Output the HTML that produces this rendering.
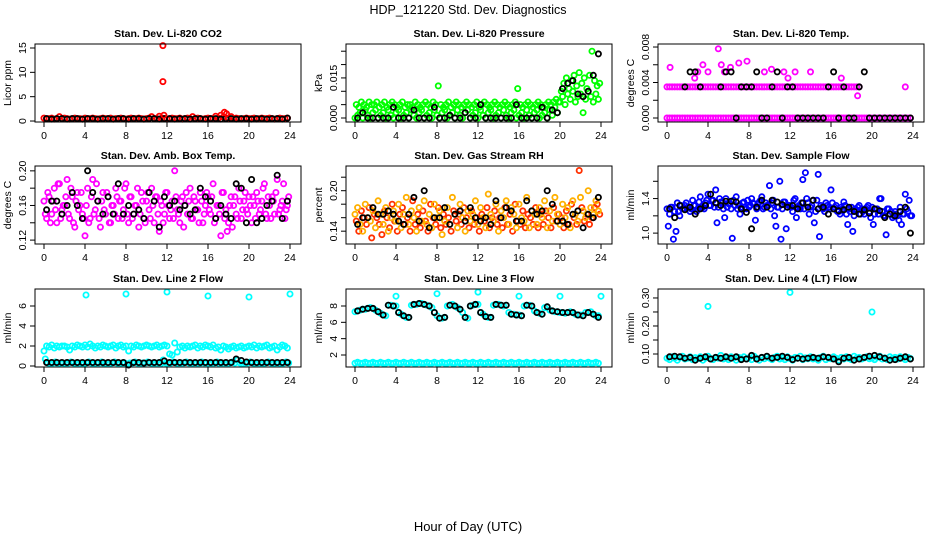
<!DOCTYPE html>
<html><head><meta charset="utf-8">
<style>
html,body{margin:0;padding:0;background:#fff;}
svg{display:block;font-family:"Liberation Sans",sans-serif;}
</style></head>
<body>
<svg id="chart" width="936" height="540" viewBox="0 0 936 540">
<text x="468" y="14" text-anchor="middle" font-size="12.5">HDP_121220  Std. Dev. Diagnostics</text>
<text x="468" y="531" text-anchor="middle" font-size="13">Hour of Day (UTC)</text>
</svg>
<script>
// ---------- data ----------
const xTicks = [0,4,8,12,16,20,24];

const co2Red = [0.6,0.5,0.5,0.6,0.4,0.5,0.9,0.5,
0.6,0.5,0.4,0.5,0.6,0.5,0.5,0.4,
0.6,0.5,0.5,0.6,0.5,0.4,0.5,0.6,
0.5,0.5,0.6,0.4,0.5,0.5,0.6,0.5,
0.4,0.5,0.6,0.5,0.5,0.6,0.5,0.4,
0.5,0.6,0.9,0.5,0.5,1.0,0.6,0.5,
0.4,0.5,0.6,0.5,0.5,0.6,0.4,0.5,
0.6,0.5,0.9,0.5,0.6,0.5,0.4,0.5,
0.6,0.5,0.5,1.0,0.6,1.2,0.8,0.5,
0.6,0.9,0.5,0.6,0.5,0.4,0.5,0.6,
0.5,0.5,0.6,0.4,0.5,0.6,0.5,0.5,
0.6,0.5,0.4,0.5,0.6,0.5,0.5,0.6];
const co2Black = [0.5,0.4,0.5,0.5,0.4,0.5,0.5,0.4,
0.5,0.5,0.4,0.5,0.5,0.4,0.5,0.5,
0.4,0.5,0.5,0.4,0.5,0.5,0.4,0.5,
0.5,0.4,0.5,0.5,0.4,0.5,0.5,0.4,
0.5,0.5,0.4,0.5,0.5,0.4,0.5,0.5,
0.4,0.5,0.5,0.4,0.5,0.5,0.4,0.6];
const co2OutHours = [11.6,11.6,11.7,17.6,17.8];
const co2OutValues = [15.5,8.1,1.2,1.8,1.5];

const presGreenHi = [0.005,0.004,0.006,0.005,0.004,0.006,0.005,0.005,
0.006,0.004,0.005,0.006,0.004,0.005,0.006,0.005,
0.004,0.005,0.006,0.004,0.005,0.005,0.004,0.006,
0.005,0.004,0.005,0.006,0.005,0.004,0.006,0.005,
0.012,0.005,0.004,0.005,0.006,0.004,0.005,0.006,
0.005,0.004,0.005,0.006,0.005,0.004,0.005,0.006,
0.004,0.005,0.006,0.005,0.004,0.005,0.006,0.005,
0.004,0.005,0.006,0.005,0.004,0.005,0.006,0.011,
0.005,0.004,0.005,0.006,0.005,0.004,0.005,0.006,
0.005,0.004,0.005,0.006,0.005,0.006,0.007,0.006,
0.010,0.013,0.015,0.011,0.014,0.016,0.012,0.017,
0.013,0.015,0.011,0.016,0.025,0.014,0.012,0.013];
const presGreenLo = [0.000,0.001,0.002,0.000,0.003,0.001,0.000,0.002,
0.003,0.000,0.001,0.002,0.000,0.003,0.001,0.000,
0.002,0.003,0.000,0.001,0.002,0.000,0.003,0.001,
0.000,0.002,0.003,0.000,0.001,0.002,0.000,0.003,
0.001,0.000,0.002,0.003,0.000,0.001,0.002,0.000,
0.003,0.001,0.000,0.002,0.003,0.000,0.001,0.002,
0.000,0.003,0.001,0.000,0.002,0.003,0.000,0.001,
0.002,0.000,0.003,0.001,0.000,0.002,0.003,0.000,
0.001,0.002,0.000,0.003,0.001,0.000,0.002,0.003,
0.000,0.001,0.002,0.000,0.003,0.001,0.004,0.002,
0.006,0.008,0.005,0.009,0.007,0.010,0.006,0.008,
0.009,0.002,0.007,0.010,0.008,0.006,0.009,0.007];
const presBlack = [0.000,0.002,0.000,0.000,0.000,0.000,0.000,0.004,
0.000,0.000,0.000,0.003,0.000,0.000,0.000,0.004,
0.000,0.000,0.001,0.000,0.000,0.002,0.000,0.000,
0.005,0.000,0.000,0.000,0.000,0.000,0.000,0.005,
0.000,0.000,0.000,0.000,0.004,0.000,0.003,0.002,
0.011,0.013,0.014,0.009,0.008,0.010,0.016,0.024];

const tempMagZero = [0,0,0,0,0,0,0,0, 0,0,0,0,0,0,0,0, 0,0,0,0,0,0,0,0,
0,0,0,0,0,0,0,0, 0,0,0,0,0,0,0,0, 0,0,0,0,0,0,0,0,
0,0,0,0,0,0,0,0, 0,0,0,0,0,0,0,0, 0,0,0,0,0,0,0,0,
0,0,0,0,0,0,0,0, 0,0,0,0,0,0,0,0, 0,0,0,0,0,0,0,0];
const tempMagMid = [0.0035,0.0035,0.0035,0.0035,0.0035,0.0035,0.0035,0.0035,
0.0035,0.0035,0.0035,0.0035,0.0035,0.0035,0.0035,0.0035,
0.0035,0.0035,0.0035,0.0035,0.0035,0.0035,0.0035,0.0035,
0.0035,0.0035,0.0035,0.0035,0.0035,0.0035,0.0035,0.0035,
0.0035,0.0035,0.0035,0.0035,0.0035,0.0035,0.0035,0.0035,
0.0035,0.0035,0.0035,0.0035,0.0035,0.0035,0.0035,0.0035,
0.0035,0.0035,0.0035,0.0035,0.0035,0.0035,0.0035,0.0035,
0.0035,0.0035,0.0035,0.0035,0.0035,0.0035,0.0035,0.0035,
0.0035,0.0035,0.0035,0.0035,0.0035,0.0035,0.0035,0.0035,
0.0035,0.0035,0.0035,0.0035,null,null,null,null,
null,null,null,null,null,null,null,null,
null,null,null,null,null,0.0035,null,null];
const tempHighHours = [0.3,2.7,3.0,3.5,4.0,5.0,5.3,5.6,6.2,7.0,7.8,9.5,10.2,11.4,11.8,12.5,14.0,17.0,18.6];
const tempHighValues = [0.0057,0.0045,0.0052,0.006,0.0052,0.0078,0.006,0.0052,0.0057,0.0062,0.0064,0.0052,0.0055,0.0052,0.0045,0.0052,0.0052,0.0045,0.0025];
const tempBlack = [null,null,null,0.0035,0.0052,0.0052,0.0035,null,
null,null,0.0035,0.0052,0.0052,0,0.0035,0.0035,
0.0035,0.0052,0,0,0.0035,0.0052,0,0.0035,
0.0035,0,0,0,0,0,0,0.0035,
0.0052,0,0.0035,0,0,0.0035,0.0052,0,
0,0,0,0,0,0,0,0];

const ambMag = [0.165,0.145,0.170,0.150,0.180,0.140,0.185,0.155,
0.160,0.190,0.145,0.170,0.135,0.175,0.160,0.150,
0.125,0.180,0.145,0.190,0.155,0.165,0.135,0.175,
0.150,0.170,0.140,0.160,0.180,0.145,0.165,0.155,
0.185,0.140,0.170,0.150,0.160,0.135,0.175,0.145,
0.165,0.155,0.180,0.140,0.170,0.130,0.160,0.150,
0.175,0.145,0.165,0.200,0.155,0.140,0.170,0.160,
0.150,0.180,0.145,0.165,0.155,0.175,0.140,0.160,
0.170,0.150,0.185,0.145,0.160,0.125,0.175,0.155,
0.140,0.170,0.160,0.150,0.180,0.145,0.165,0.155,
0.170,0.140,0.160,0.175,0.150,0.165,0.185,0.145,
0.160,0.170,0.150,0.190,0.155,0.165,0.145,0.160];
const ambMag2 = [0.150,0.175,0.140,0.165,0.155,0.185,0.145,0.160,
0.170,0.150,0.180,0.140,0.165,0.155,0.175,0.145,
0.160,0.140,0.170,0.150,0.185,0.145,0.165,0.155,
0.175,0.140,0.160,0.150,0.170,0.165,0.145,0.180,
0.150,0.170,0.145,0.160,0.180,0.150,0.165,0.140,
0.175,0.145,0.160,0.170,0.150,0.165,0.140,0.175,
0.160,0.155,0.145,0.170,0.150,0.165,0.135,0.175,
0.165,0.145,0.170,0.155,0.140,0.165,0.150,0.175,
0.155,0.170,0.140,0.160,0.150,0.175,0.145,0.130,
0.160,0.135,0.170,0.145,0.165,0.155,0.175,0.150,
0.160,0.170,0.145,0.165,0.155,0.180,0.150,0.170,
0.145,0.165,0.175,0.150,0.160,0.185,0.155,0.170];
const ambBlack = [0.155,0.165,0.165,0.150,0.160,0.175,0.160,0.145,
0.200,0.175,0.165,0.150,0.170,0.150,0.185,0.150,
0.160,0.150,0.155,0.145,0.175,0.165,0.135,0.170,
0.160,0.165,0.155,0.160,0.150,0.155,0.180,0.170,
0.165,0.145,0.160,0.150,0.145,0.185,0.180,0.140,
0.190,0.140,0.145,0.160,0.165,0.195,0.145,0.165];

const rhOrange = [0.165,0.175,0.150,0.140,0.180,0.160,0.155,0.170,
0.145,0.185,0.165,0.150,0.175,0.140,0.160,0.170,
0.155,0.180,0.145,0.165,0.190,0.150,0.170,0.160,
0.140,0.175,0.155,0.185,0.150,0.165,0.145,0.180,
0.160,0.170,0.135,0.155,0.175,0.150,0.190,0.165,
0.145,0.180,0.160,0.140,0.170,0.155,0.165,0.185,
0.150,0.175,0.160,0.145,0.195,0.165,0.155,0.180,
0.140,0.170,0.160,0.185,0.150,0.175,0.165,0.145,
0.180,0.160,0.155,0.190,0.145,0.170,0.165,0.150,
0.175,0.160,0.185,0.145,0.170,0.155,0.190,0.165,
0.150,0.180,0.160,0.175,0.145,0.185,0.165,0.155,
0.190,0.170,0.160,0.200,0.175,0.165,0.185,0.170];
const rhRed = [0.155,0.140,0.170,0.160,0.150,0.175,0.130,0.165,
0.160,0.150,0.135,0.170,0.160,0.145,0.180,0.155,
0.140,0.165,0.175,0.150,0.160,0.140,0.185,0.150,
0.165,0.145,0.170,0.155,0.140,0.180,0.160,0.150,
0.175,0.145,0.165,0.150,0.160,0.140,0.170,0.155,
0.165,0.150,0.175,0.160,0.145,0.170,0.150,0.160,
0.140,0.165,0.155,0.175,0.145,0.160,0.170,0.150,
0.160,0.145,0.175,0.150,0.165,0.140,0.180,0.155,
0.150,0.170,0.145,0.165,0.160,0.150,0.175,0.145,
0.165,0.150,0.170,0.160,0.145,0.175,0.155,0.165,
0.160,0.145,0.170,0.150,0.180,0.160,0.150,0.230,
0.175,0.155,0.165,0.150,0.160,0.175,0.180,0.165];
const rhBlack = [0.150,0.160,0.160,0.175,0.165,0.165,0.170,0.165,
0.155,0.150,0.165,0.190,0.155,0.200,0.145,0.160,
0.160,0.175,0.150,0.165,0.170,0.155,0.175,0.160,
0.155,0.160,0.150,0.185,0.160,0.175,0.170,0.155,
0.155,0.185,0.170,0.165,0.170,0.200,0.180,0.155,
0.155,0.150,0.165,0.170,0.145,0.165,0.160,0.190];

const flowBlue = [1.28,1.22,1.30,1.25,1.35,1.20,1.28,1.32,
1.30,1.25,1.38,1.32,1.28,1.42,1.30,1.35,
1.45,1.32,1.38,1.50,1.30,1.36,1.28,1.40,
1.34,1.28,1.38,1.42,1.32,1.30,1.36,1.28,
1.30,1.40,1.34,1.28,1.36,1.42,1.30,1.32,
1.55,1.35,1.20,1.30,1.60,1.28,1.36,1.30,
1.32,1.25,1.40,1.30,1.28,1.62,1.70,1.35,
1.30,1.38,1.25,1.68,1.32,1.28,1.35,1.30,
1.50,1.28,1.32,1.25,1.30,1.36,1.22,1.28,
1.30,1.20,1.26,1.32,1.28,1.22,1.30,1.25,
1.30,1.22,1.28,1.40,1.25,1.20,1.28,1.22,
1.18,1.25,1.20,1.30,1.22,1.45,1.25,1.20];
const flowBlue2 = [1.08,1.30,0.93,1.02,1.25,1.32,1.28,1.35,
1.30,1.28,1.32,1.25,1.36,1.30,1.28,1.38,
1.32,1.38,1.30,1.12,1.40,1.35,1.18,1.30,
1.34,0.94,1.32,1.28,1.22,1.35,1.30,1.38,
1.32,1.35,1.15,1.30,1.38,1.28,1.35,1.32,
1.28,1.38,1.08,1.30,0.93,1.36,1.05,1.32,
1.30,1.38,1.18,1.32,1.35,1.28,1.40,1.22,
1.32,1.12,1.38,0.96,1.30,1.25,1.32,1.28,
1.35,1.30,1.25,1.22,1.28,1.32,1.10,1.25,
1.02,1.28,1.30,1.22,1.25,1.28,1.32,1.18,
1.10,1.28,1.22,1.40,1.20,0.98,1.28,1.25,
1.20,1.22,1.15,1.10,1.22,1.28,1.38,1.20];
const flowBlack = [1.28,1.18,1.32,1.27,1.30,1.22,1.28,1.32,
1.45,1.35,1.32,1.37,1.37,1.36,1.28,1.24,
1.05,1.30,1.38,1.30,1.38,1.36,1.33,1.30,
1.32,1.28,1.35,1.30,1.38,1.28,1.30,1.22,
1.28,1.26,1.27,1.30,1.25,1.22,1.27,1.23,
1.28,1.26,1.18,1.22,1.20,1.25,1.30,1.00];

const l2CyanHi = [1.5,2.0,1.9,2.1,1.8,2.0,1.9,2.0,
2.0,1.9,1.6,2.0,1.9,2.1,2.0,1.9,
2.1,1.9,2.2,2.0,1.8,2.0,1.9,2.1,
2.0,1.9,2.0,2.1,1.8,2.0,2.1,1.9,
2.0,1.5,2.0,1.9,2.1,2.0,1.9,2.0,
2.1,2.0,1.9,2.0,2.1,1.9,2.0,2.1,
2.0,1.2,1.1,2.3,1.4,1.9,2.0,1.8,
2.0,1.9,2.0,2.1,1.8,2.0,1.9,2.1,
2.0,1.9,2.1,1.8,1.9,1.6,2.0,1.9,
1.7,1.9,2.0,1.8,1.9,2.0,1.8,1.9,
2.0,1.9,2.1,1.8,2.0,1.9,2.0,2.1,
1.8,1.9,2.0,1.6,1.9,2.1,2.0,1.8];
const l2CyanLo = [0.7,0.3,0.2,0.3,0.4,0.2,0.3,0.3,
0.2,0.3,0.4,0.3,0.2,0.3,0.3,0.2,
0.3,0.4,0.3,0.2,0.3,0.3,0.4,0.2,
0.3,0.2,0.3,0.4,0.3,0.2,0.3,0.3,
0.2,0.3,0.3,0.4,0.3,0.2,0.3,0.3,
0.4,0.3,0.2,0.3,0.3,0.2,0.6,0.3,
0.2,0.3,0.4,0.3,0.2,0.3,0.3,0.4,
0.3,0.2,0.3,0.3,0.2,0.4,0.3,0.3,
0.2,0.3,0.3,0.4,0.2,0.3,0.3,0.2,
0.3,0.4,0.3,0.6,0.3,0.2,0.3,0.3,
0.4,0.3,0.2,0.3,0.3,0.2,0.3,0.4,
0.3,0.2,0.3,0.3,0.2,0.3,0.4,0.3];
const l2OutHours = [4.1,8.0,12.0,16.0,20.0,24.0];
const l2OutValues = [7.1,7.2,7.4,7.0,6.9,7.2];
const l2Black = [0.35,0.35,0.35,0.35,0.35,0.35,0.35,0.35,
0.35,0.35,0.35,0.35,0.35,0.35,0.35,0.35,
0.10,0.35,0.35,0.30,0.35,0.35,0.35,0.50,
0.35,0.35,0.35,0.35,0.35,0.35,0.35,0.35,
0.35,0.35,0.35,0.35,0.35,0.70,0.55,0.40,
0.35,0.35,0.35,0.35,0.35,0.35,0.35,0.35];

const l3CyanLo = [1.0,1.1,1.0,1.0,1.1,1.0,1.0,1.1,
1.0,1.0,1.1,1.0,1.0,1.1,1.0,1.0,
1.1,1.0,1.0,1.1,1.0,1.0,1.1,1.0,
1.0,1.1,1.0,1.0,1.1,1.0,1.0,1.1,
1.0,1.0,1.1,1.0,1.0,1.1,1.0,1.0,
1.1,1.0,1.0,1.1,1.0,1.0,1.1,1.0,
1.0,1.1,1.0,1.0,1.1,1.0,1.0,1.1,
1.0,1.0,1.1,1.0,1.0,1.1,1.0,1.0,
1.1,1.0,1.0,1.1,1.0,1.0,1.1,1.0,
1.0,1.1,1.0,1.0,1.1,1.0,1.0,1.1,
1.0,1.0,1.1,1.0,1.0,1.1,1.0,1.0,
1.1,1.0,1.0,1.1,1.0,1.0,1.1,1.0];
const l3CyanWave = [7.3,7.4,7.5,7.6,7.6,7.7,7.8,7.7,
7.5,7.3,7.1,6.9,6.8,8.1,8.1,8.0,
8.0,7.2,7.0,6.8,6.6,6.6,8.1,8.2,
8.2,8.3,8.3,8.2,8.1,8.0,7.8,7.2,
6.8,6.5,6.5,6.6,8.0,8.1,8.2,8.0,
7.8,7.6,7.2,6.6,6.5,8.0,8.1,8.2,
8.2,7.2,7.0,6.7,6.6,6.6,8.1,8.2,
8.2,8.1,8.0,8.1,7.2,7.0,7.0,6.9,
6.9,6.8,8.0,8.1,8.1,8.0,7.4,7.2,
7.1,7.0,7.8,7.9,7.5,7.4,7.3,7.3,
7.2,7.2,7.1,7.2,7.3,7.2,7.0,6.9,
6.9,6.8,7.2,7.2,7.3,7.0,6.8,6.8];
const l3OutHours = [4.0,8.0,12.0,16.0,20.0,24.0];
const l3OutValues = [9.2,9.5,9.7,9.2,9.2,9.2];
const l3Black = [7.4,7.6,7.7,7.7,7.3,6.9,8.1,8.0,
7.2,6.8,6.6,8.2,8.3,8.2,8.0,7.2,
6.5,6.6,8.1,8.0,7.6,6.6,8.0,8.2,
7.2,6.7,6.6,8.2,8.1,8.1,7.0,6.9,
6.8,8.1,8.0,7.2,7.0,7.9,7.4,7.3,
7.2,7.2,7.2,6.9,6.8,7.2,7.0,6.6];

const l4Cyan = [0.085,0.080,0.090,0.085,0.078,0.088,0.092,0.082,
0.085,0.090,0.080,0.087,0.083,0.090,0.078,0.085,
0.092,0.084,0.080,0.088,0.085,0.095,0.082,0.086,
0.080,0.090,0.085,0.078,0.088,0.084,0.090,0.082,
0.086,0.080,0.092,0.085,0.078,0.088,0.083,0.090,
0.085,0.080,0.088,0.092,0.082,0.086,0.080,0.090,
0.084,0.078,0.088,0.085,0.092,0.080,0.086,0.083,
0.090,0.082,0.085,0.078,0.088,0.092,0.080,0.086,
0.083,0.090,0.085,0.078,0.088,0.082,0.090,0.084,
0.080,0.092,0.085,0.088,0.082,0.086,0.090,0.083,
0.085,0.080,0.088,0.092,0.082,0.086,0.080,0.090,
0.084,0.088,0.082,0.090,0.085,0.080,0.088,0.084];
const l4OutHours = [4.0,12.0,20.0];
const l4OutValues = [0.27,0.32,0.25];
const l4Black = [0.090,0.092,0.090,0.085,0.088,0.078,0.085,0.090,
0.082,0.088,0.085,0.090,0.085,0.090,0.080,0.082,
0.095,0.082,0.088,0.092,0.085,0.088,0.092,0.088,
0.080,0.085,0.082,0.085,0.088,0.085,0.090,0.088,
0.082,0.072,0.085,0.088,0.078,0.082,0.088,0.092,
0.095,0.090,0.085,0.078,0.080,0.085,0.090,0.082];

// ---------- layout ----------
const NS = 'http://www.w3.org/2000/svg';
const svg = document.getElementById('chart');
const colLeft = [35,346,658], rowTop = [44,166,289];
const boxW = 266, boxH = 78;

const panels = [
 {name:'co2', title:'Stan. Dev. Li-820 CO2', ylab:'Licor ppm', dom:[-0.2,15.82], ticks:[0,5,10,15], labels:['0','5','10','15'],
  series:[{v:co2Red,c:'#ff0000',o:0},{v:co2Black,c:'#000',o:0.5},{h:co2OutHours,v:co2OutValues,c:'#ff0000'}]},
 {name:'pressure', title:'Stan. Dev. Li-820 Pressure', ylab:'kPa', dom:[-0.0015,0.0277], ticks:[0,0.005,0.01,0.015,0.02,0.025], labels:['0.000','','','0.015','',''],
  series:[{v:presGreenLo,c:'#00ff00',o:0},{v:presGreenHi,c:'#00ff00',o:0.5},{v:presBlack,c:'#000',o:0.5}]},
 {name:'temp', title:'Stan. Dev. Li-820 Temp.', ylab:'degrees C', dom:[-0.00045,0.00834], ticks:[0,0.002,0.004,0.006,0.008], labels:['0.000','','0.004','','0.008'],
  series:[{v:tempMagZero,c:'#ff00ff',o:0},{v:tempMagMid,c:'#ff00ff',o:0},{h:tempHighHours,v:tempHighValues,c:'#ff00ff'},{v:tempBlack,c:'#000',o:0.5}]},
 {name:'amb-box-temp', title:'Stan. Dev. Amb. Box Temp.', ylab:'degrees C', dom:[0.1155,0.2056], ticks:[0.12,0.14,0.16,0.18,0.20], labels:['0.12','','0.16','','0.20'],
  series:[{v:ambMag,c:'#ff00ff',o:0},{v:ambMag2,c:'#ff00ff',o:0.5},{v:ambBlack,c:'#000',o:0.5}]},
 {name:'gas-rh', title:'Stan. Dev. Gas Stream RH', ylab:'percent', dom:[0.121,0.2366], ticks:[0.14,0.16,0.18,0.20,0.22], labels:['0.14','','','0.20',''],
  series:[{v:rhRed,c:'#ff3000',o:0.5},{v:rhOrange,c:'#ffb000',o:0},{v:rhBlack,c:'#000',o:0.5}]},
 {name:'sample-flow', title:'Stan. Dev. Sample Flow', ylab:'ml/min', dom:[0.874,1.777], ticks:[1.0,1.2,1.4,1.6], labels:['1.0','','1.4',''],
  series:[{v:flowBlue2,c:'#0000ff',o:0.5},{v:flowBlue,c:'#0000ff',o:0},{v:flowBlack,c:'#000',o:0.5}]},
 {name:'line2-flow', title:'Stan. Dev. Line 2 Flow', ylab:'ml/min', dom:[-0.1,7.7], ticks:[0,2,4,6], labels:['0','2','4','6'],
  series:[{v:l2CyanHi,c:'#00ffff',o:0},{v:l2CyanLo,c:'#00ffff',o:0.5},{h:l2OutHours,v:l2OutValues,c:'#00ffff'},{v:l2Black,c:'#000',o:0.5}]},
 {name:'line3-flow', title:'Stan. Dev. Line 3 Flow', ylab:'ml/min', dom:[0.53,10.08], ticks:[2,4,6,8], labels:['2','4','6','8'],
  series:[{v:l3CyanLo,c:'#00ffff',o:0},{v:l3CyanWave,c:'#00ffff',o:0},{h:l3OutHours,v:l3OutValues,c:'#00ffff'},{v:l3Black,c:'#000',o:0.5}]},
 {name:'line4-flow', title:'Stan. Dev. Line 4 (LT) Flow', ylab:'ml/min', dom:[0.0536,0.332], ticks:[0.10,0.15,0.20,0.25,0.30], labels:['0.10','','0.20','','0.30'],
  series:[{v:l4Cyan,c:'#00ffff',o:0},{h:l4OutHours,v:l4OutValues,c:'#00ffff'},{v:l4Black,c:'#000',o:0.5}]}
];

function mk(tag, attrs, parent){
  const e = document.createElementNS(NS, tag);
  for (const k in attrs) e.setAttribute(k, attrs[k]);
  (parent||svg).appendChild(e);
  return e;
}

panels.forEach((p, idx) => {
  const L = colLeft[idx%3], T = rowTop[Math.floor(idx/3)], B = T + boxH;
  const xs = h => L + 9 + h * 246 / 24;
  const ys = v => B - (v - p.dom[0]) / (p.dom[1] - p.dom[0]) * boxH;
  const g = mk('g', {});
  
  

  const t = mk('text', {x: L + boxW/2, y: T - 7, 'text-anchor':'middle', 'font-size':'10.5', 'font-weight':'bold'}, g);
  t.textContent = p.title;
  
  

  const yl = mk('text', {x: L - 24, y: T + boxH/2, 'text-anchor':'middle', 'font-size':'10.5', transform:`rotate(-90 ${L-24} ${T+boxH/2})`}, g);
  yl.textContent = p.ylab;
  
  

  const pg = mk('g', {fill:'none', 'stroke-width':'1.8'}, g);
  
  
  p.series.forEach(s => {
    s.v.forEach((v, i) => {
      if (v === null) return;
      const h = s.h ? s.h[i] : (i + s.o) * 24 / s.v.length;
      const c = mk('circle', {cx: xs(h).toFixed(1), cy: ys(v).toFixed(1), r: 2.6, stroke: s.c}, pg);
      
      
    });
  });

  const box = mk('rect', {x: L, y: T, width: boxW, height: boxH, fill:'none', stroke:'#000', 'stroke-width':'1'}, g);
  
  

  xTicks.forEach(h => {
    const x = xs(h);
    const tk = mk('line', {x1:x, x2:x, y1:B, y2:B+5, stroke:'#000'}, g);
    
    
    const tl = mk('text', {x:x, y:B+17, 'text-anchor':'middle', 'font-size':'10.5'}, g);
    tl.textContent = h;
    
    
  });
  p.ticks.forEach((v, i) => {
    const y = ys(v);
    const tk = mk('line', {x1:L-5, x2:L, y1:y, y2:y, stroke:'#000'}, g);
    
    
    if (p.labels[i]) {
      const tl = mk('text', {x:L-9, y:y, 'text-anchor':'middle', 'font-size':'10.5', transform:`rotate(-90 ${L-9} ${y})`}, g);
      tl.textContent = p.labels[i];
      
      
    }
  });
});
</script>
</body></html>
